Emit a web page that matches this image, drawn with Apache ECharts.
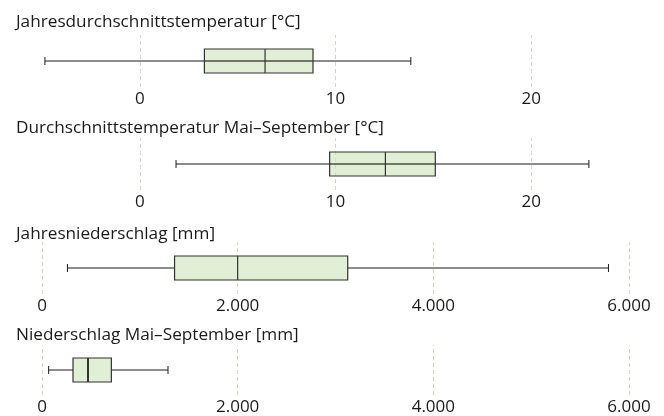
<!DOCTYPE html>
<html>
<head>
<meta charset="utf-8">
<script src="https://cdn.jsdelivr.net/npm/echarts@6/dist/echarts.min.js"></script>
<style>html,body{margin:0;padding:0;background:#fff}#c{width:664px;height:416px}</style>
</head>
<body>
<div id="c"></div>
<script>
// Panel titles
const titles = [
  'Jahresdurchschnittstemperatur [°C]',
  'Durchschnittstemperatur Mai–September [°C]',
  'Jahresniederschlag [mm]',
  'Niederschlag Mai–September [mm]'
];
// Box statistics: [min, Q1, median, Q3, max]
const annualTemp = [-4.85, 3.3, 6.4, 8.85, 13.85];
const summerTemp = [1.85, 9.7, 12.55, 15.1, 22.95];
const annualPrecip = [260, 1355, 2000, 3125, 5790];
const summerPrecip = [68, 317, 470, 709, 1288];
// Tick labels
const tempTicks = [0, 10, 20];
const precipTicks = [0, 2000, 4000, 6000];
const tempRange = [-5, 25];
const precipRange = [0, 6000];

const panels = [
  {title: titles[0], box: annualTemp, ticks: tempTicks, range: tempRange, step: 5, through: true},
  {title: titles[1], box: summerTemp, ticks: tempTicks, range: tempRange, step: 5, through: true},
  {title: titles[2], box: annualPrecip, ticks: precipTicks, range: precipRange, step: 2000, through: false},
  {title: titles[3], box: summerPrecip, ticks: precipTicks, range: precipRange, step: 2000, through: false}
];
const centers = [61, 164, 268, 371];
const titleY = [14, 120, 226, 327];
const FONT = 'Open Sans';
const fmt = v => String(Math.round(v)).replace(/\B(?=(\d{3})+(?!\d))/g, '.');

const option = {
  animation: false,
  textStyle: {fontFamily: FONT},
  title: panels.map((p, i) => ({
    text: p.title, left: 16, top: titleY[i], padding: 0,
    textStyle: {fontFamily: FONT, fontSize: 17.2, fontWeight: 'normal', color: '#1a1a1a'}
  })),
  grid: panels.map((p, i) => ({left: 42, width: 587, top: centers[i] - 26, height: 52})),
  xAxis: panels.map((p, i) => ({
    type: 'value', gridIndex: i, min: p.range[0], max: p.range[1], interval: p.step,
    axisLine: {show: false}, axisTick: {show: false}, splitLine: {show: false},
    axisLabel: {
      customValues: p.ticks, margin: 4, fontSize: 17, color: '#1a1a1a', fontFamily: FONT,
      formatter: v => (p.ticks.indexOf(v) >= 0 ? fmt(v) : '')
    }
  })),
  yAxis: panels.map((p, i) => ({
    type: 'category', gridIndex: i, data: ['a'], show: false
  })),
  series: panels.map((p, i) => ({
    type: 'custom', xAxisIndex: i, yAxisIndex: i,
    data: [[0].concat(p.box)],
    encode: {x: [1, 2, 3, 4, 5], y: 0},
    renderItem: function (params, api) {
      const c = api.value(0);
      const vals = [1, 2, 3, 4, 5].map(k => api.coord([api.value(k), c]));
      const y = vals[0][1];
      const h = 12, cap = 4;
      const line = {stroke: '#1a1a1a', lineWidth: 1};
      const children = [];
      if (p.through) {
        children.push({type: 'line', shape: {x1: vals[0][0], y1: y, x2: vals[4][0], y2: y}, style: line});
      } else {
        children.push({type: 'line', shape: {x1: vals[0][0], y1: y, x2: vals[1][0], y2: y}, style: line});
        children.push({type: 'line', shape: {x1: vals[3][0], y1: y, x2: vals[4][0], y2: y}, style: line});
      }
      children.push({type: 'line', shape: {x1: vals[0][0], y1: y - cap, x2: vals[0][0], y2: y + cap}, style: line});
      children.push({type: 'line', shape: {x1: vals[4][0], y1: y - cap, x2: vals[4][0], y2: y + cap}, style: line});
      children.push({type: 'rect', shape: {x: vals[1][0], y: y - h, width: vals[3][0] - vals[1][0], height: 2 * h},
        style: {fill: 'rgba(200,225,180,0.55)', stroke: '#333', lineWidth: 1.2}});
      if (p.through) {
        children.push({type: 'line', shape: {x1: vals[1][0], y1: y, x2: vals[3][0], y2: y}, style: {stroke: '#333', lineWidth: 1}});
      }
      children.push({type: 'line', shape: {x1: vals[2][0], y1: y - h, x2: vals[2][0], y2: y + h}, style: {stroke: '#333', lineWidth: i === 3 ? 2 : 1.2}});
      return {type: 'group', children: children};
    },
    markLine: {
      silent: true, symbol: 'none', label: {show: false}, z: 1,
      lineStyle: {type: [4, 3], color: '#d8d2c3', width: 1},
      data: p.ticks.map(v => ({xAxis: v}))
    },
    z: 3
  }))
};

const chart = echarts.init(document.getElementById('c'), null, {renderer: 'canvas'});
chart.setOption(option);
</script>
</body>
</html>
